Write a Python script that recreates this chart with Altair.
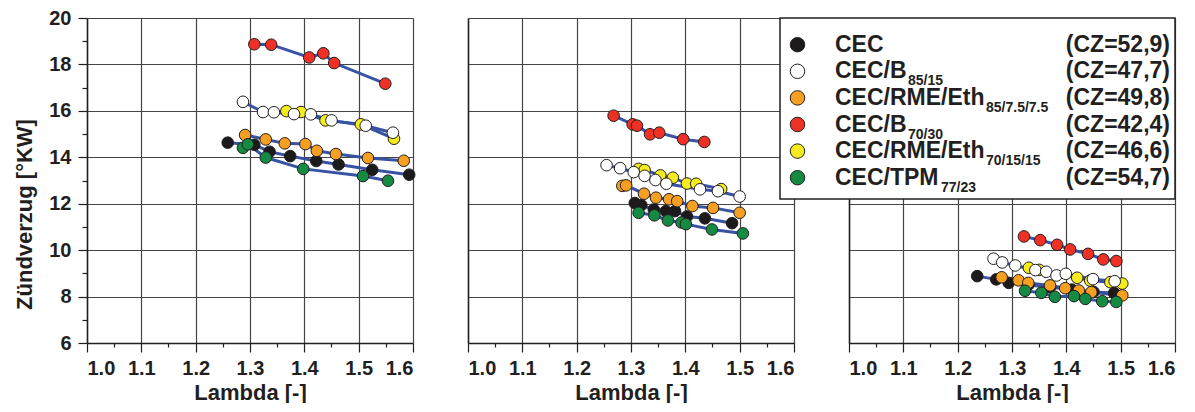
import altair as alt
import pandas as pd

FONT = "Liberation Sans"
INK = "#231f20"

# ---------------- data ----------------
series_keys = ["RME70", "B85", "CEC", "RME85", "TPM", "B70"]  # drawing order
legend_keys = ["CEC", "B85", "RME85", "B70", "RME70", "TPM"]
legend_main = ["CEC", "CEC/B", "CEC/RME/Eth", "CEC/B", "CEC/RME/Eth", "CEC/TPM"]
legend_sub = ["", "85/15", "85/7.5/7.5", "70/30", "70/15/15", "77/23"]
legend_cz = ["(CZ=52,9)", "(CZ=47,7)", "(CZ=49,8)", "(CZ=42,4)", "(CZ=46,6)", "(CZ=54,7)"]
series_colors = {"CEC": "#1c1a1b", "B85": "#ffffff", "RME85": "#f5a020",
                 "B70": "#ee3124", "RME70": "#f4ec1e", "TPM": "#148a43"}

# Panel 1
p1_CEC_lam = [1.259, 1.308, 1.336, 1.374, 1.422, 1.463, 1.525, 1.593]
p1_CEC_zv = [14.63, 14.54, 14.24, 14.05, 13.84, 13.69, 13.46, 13.25]
p1_B85_lam = [1.287, 1.324, 1.344, 1.381, 1.412, 1.450, 1.513, 1.563]
p1_B85_zv = [16.39, 15.95, 15.94, 15.86, 15.85, 15.59, 15.36, 15.06]
p1_RME85_lam = [1.291, 1.329, 1.364, 1.402, 1.423, 1.458, 1.517, 1.583]
p1_RME85_zv = [14.96, 14.77, 14.60, 14.57, 14.28, 14.14, 13.97, 13.85]
p1_B70_lam = [1.308, 1.339, 1.409, 1.435, 1.455, 1.549]
p1_B70_zv = [18.87, 18.85, 18.30, 18.48, 18.06, 17.17]
p1_RME70_lam = [1.367, 1.394, 1.439, 1.504, 1.565]
p1_RME70_zv = [15.99, 15.95, 15.59, 15.42, 14.80]
p1_TPM_lam = [1.287, 1.296, 1.329, 1.398, 1.508, 1.554]
p1_TPM_zv = [14.41, 14.56, 13.99, 13.50, 13.19, 12.99]

# Panel 2
p2_CEC_lam = [1.307, 1.319, 1.342, 1.364, 1.381, 1.403, 1.436, 1.486]
p2_CEC_zv = [12.03, 11.94, 11.75, 11.68, 11.68, 11.45, 11.37, 11.16]
p2_B85_lam = [1.255, 1.280, 1.305, 1.325, 1.345, 1.365, 1.427, 1.460, 1.500]
p2_B85_zv = [13.66, 13.53, 13.36, 13.20, 13.02, 12.86, 12.62, 12.54, 12.31]
p2_RME85_lam = [1.284, 1.291, 1.324, 1.346, 1.370, 1.385, 1.413, 1.451, 1.500]
p2_RME85_zv = [12.77, 12.79, 12.43, 12.26, 12.19, 12.11, 11.90, 11.82, 11.61]
p2_B70_lam = [1.268, 1.303, 1.311, 1.335, 1.352, 1.396, 1.435]
p2_B70_zv = [15.79, 15.42, 15.36, 14.99, 15.06, 14.78, 14.66]
p2_RME70_lam = [1.314, 1.325, 1.354, 1.377, 1.403, 1.420, 1.466]
p2_RME70_zv = [13.50, 13.45, 13.22, 13.12, 12.87, 12.86, 12.63]
p2_TPM_lam = [1.314, 1.343, 1.368, 1.393, 1.401, 1.449, 1.506]
p2_TPM_zv = [11.61, 11.50, 11.28, 11.19, 11.12, 10.89, 10.72]

# Panel 3
p3_CEC_lam = [1.236, 1.271, 1.294, 1.330, 1.370, 1.410, 1.450, 1.488]
p3_CEC_zv = [8.88, 8.74, 8.59, 8.50, 8.40, 8.30, 8.20, 8.15]
p3_B85_lam = [1.266, 1.282, 1.306, 1.343, 1.363, 1.382, 1.399, 1.449, 1.489]
p3_B85_zv = [9.63, 9.47, 9.34, 9.14, 9.07, 8.91, 8.98, 8.75, 8.66]
p3_RME85_lam = [1.281, 1.312, 1.330, 1.370, 1.398, 1.423, 1.446, 1.503]
p3_RME85_zv = [8.83, 8.70, 8.59, 8.48, 8.36, 8.26, 8.19, 8.05]
p3_B70_lam = [1.322, 1.352, 1.383, 1.407, 1.440, 1.468, 1.492]
p3_B70_zv = [10.59, 10.43, 10.23, 10.03, 9.84, 9.60, 9.53]
p3_RME70_lam = [1.331, 1.350, 1.420, 1.444, 1.481, 1.503]
p3_RME70_zv = [9.24, 9.15, 8.81, 8.69, 8.62, 8.56]
p3_TPM_lam = [1.324, 1.354, 1.379, 1.414, 1.435, 1.466, 1.492]
p3_TPM_zv = [8.25, 8.16, 7.99, 8.02, 7.90, 7.80, 7.77]

x_ticks = [round(1.0 + 0.05 * i, 2) for i in range(13)]
y_ticks = list(range(6, 21))
y_major = list(range(6, 21, 2))

# ---------------- table ----------------
g = globals()
rows = []
for p in (1, 2, 3):
    for z, s in enumerate(series_keys):
        for lam, zv in zip(g[f"p{p}_{s}_lam"], g[f"p{p}_{s}_zv"]):
            rows.append({"panel": p, "series": s, "lam": lam, "zv": zv, "z": z})
df = pd.DataFrame(rows)

W, H = 326, 325
x_major_test = "abs(datum.value*10 - round(datum.value*10)) < 0.001"

x_axis = alt.Axis(
    values=x_ticks,
    labelExpr=f"{x_major_test} ? format(datum.value, '.1f') : ''",
    tickSize={"condition": {"test": x_major_test, "value": 9}, "value": 4},
    gridOpacity={"condition": {"test": x_major_test, "value": 1}, "value": 0},
    labelPadding=6, titlePadding=4,
)
y_axis_main = alt.Axis(
    values=y_ticks,
    labelExpr="datum.value % 2 == 0 ? datum.label : ''",
    tickSize={"condition": {"test": "datum.value % 2 == 0", "value": 9}, "value": 5},
    gridOpacity={"condition": {"test": "datum.value % 2 == 0", "value": 1}, "value": 0},
    labelPadding=7, titlePadding=12, titleY=196,
)
y_axis_other = alt.Axis(values=y_major, labels=False, ticks=False, title=None)

color_scale = alt.Scale(domain=list(series_colors.keys()), range=list(series_colors.values()))


def panel(p, y_axis):
    base = alt.Chart(df[df.panel == p])
    x = alt.X("lam:Q", title="Lambda [-]", axis=x_axis,
              scale=alt.Scale(domain=[1.0, 1.6], nice=False, zero=False))
    y = alt.Y("zv:Q", title="Zündverzug [°KW]", axis=y_axis,
              scale=alt.Scale(domain=[6, 20], nice=False, zero=False))
    lines = base.mark_line(color="#3853a4", strokeWidth=3).encode(
        x=x, y=y, detail="series:N", order="lam:Q")
    pts = base.mark_circle(size=135, opacity=1, stroke=INK, strokeWidth=1).encode(
        x=x, y=y, fill=alt.Fill("series:N", scale=color_scale, legend=None),
        order="z:Q")
    return [lines, pts]


# ---------------- legend (drawn inside panel 3) ----------------
def legend_layers():
    layers = []
    box = alt.Chart(pd.DataFrame({"a": [0]})).mark_rect(
        fill="white", stroke=INK, strokeWidth=1.5
    ).encode(x=alt.value(-69), x2=alt.value(326), y=alt.value(0), y2=alt.value(181))
    layers.append(box)
    sub_off = {"CEC/B": 73, "CEC/RME/Eth": 151, "CEC/TPM": 106, "CEC": 0}
    for i, key in enumerate(legend_keys):
        ry = 26.7 + 26.6 * i
        d = pd.DataFrame({"main": [legend_main[i]], "sub": [legend_sub[i]],
                          "cz": [legend_cz[i]]})
        c = alt.Chart(d)
        layers.append(c.mark_circle(size=210, opacity=1, fill=series_colors[key],
                                    stroke=INK, strokeWidth=1).encode(
            x=alt.value(-51.5), y=alt.value(ry)))
        tkw = dict(font=FONT, fontWeight="bold", color=INK, baseline="middle")
        layers.append(c.mark_text(align="left", fontSize=23, **tkw).encode(
            text="main:N", x=alt.value(-14), y=alt.value(ry)))
        if legend_sub[i]:
            layers.append(c.mark_text(align="left", fontSize=14, **tkw).encode(
                text="sub:N", x=alt.value(-14 + sub_off[legend_main[i]]),
                y=alt.value(ry + 10)))
        layers.append(c.mark_text(align="right", fontSize=23, **tkw).encode(
            text="cz:N", x=alt.value(321), y=alt.value(ry)))
    return layers


p1 = alt.layer(*panel(1, y_axis_main)).properties(width=W, height=H)
p2 = alt.layer(*panel(2, y_axis_other)).properties(width=W, height=H)
p3 = alt.layer(*panel(3, y_axis_other), *legend_layers()).properties(width=W, height=H)

chart = alt.hconcat(p1, p2, p3, spacing=55, bounds="flush").properties(
    padding={"left": 5, "top": 0, "right": 5, "bottom": 0}
).configure_view(stroke=None).configure_axis(
    labelFont=FONT, labelFontWeight="bold", labelFontSize=20, labelColor=INK,
    titleFont=FONT, titleFontWeight="bold", titleFontSize=22, titleColor=INK,
    domainColor=INK, domainWidth=1.5, tickColor=INK, tickWidth=1.2,
    gridColor="#444444", gridWidth=1.2,
)

chart.save("out.html", embed_options={"renderer": "svg", "actions": False})
